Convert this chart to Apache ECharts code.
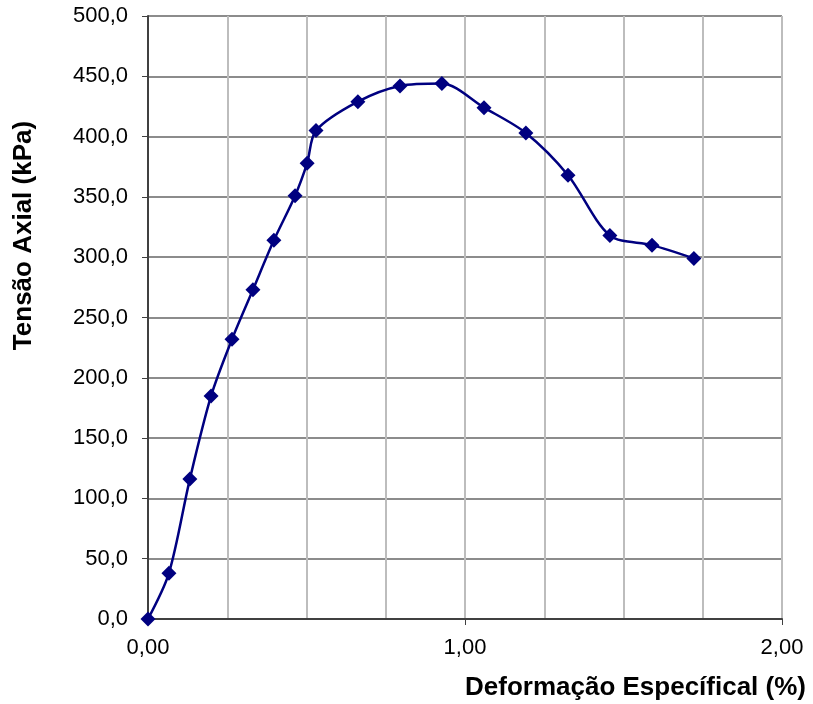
<!DOCTYPE html>
<html><head><meta charset="utf-8">
<script src="https://cdn.jsdelivr.net/npm/echarts@6/dist/echarts.min.js"></script>
<style>html,body{margin:0;padding:0;background:#fff}#c{width:813px;height:704px}</style>
</head><body><div id="c"></div>
<script>
var strain = [0, 0.066, 0.132, 0.199, 0.265, 0.331, 0.397, 0.464, 0.502, 0.530, 0.662, 0.795, 0.927, 1.060, 1.192, 1.325, 1.457, 1.590, 1.722];
var stress = [0, 38, 116, 185, 232, 273, 314, 351, 378, 405, 429, 442, 444, 424, 403, 368, 318, 310, 299];
var xTicks = [0, 1, 2];
var yTicks = [0, 50, 100, 150, 200, 250, 300, 350, 400, 450, 500];

var data = strain.map(function (x, i) { return [x, stress[i]]; });
var chart = echarts.init(document.getElementById('c'), null, {renderer: 'canvas'});
chart.setOption({
  animation: false,
  backgroundColor: '#fff',
  grid: {left: 148, right: 31, top: 16, bottom: 85, containLabel: false, show: false},
  xAxis: {
    type: 'value', min: xTicks[0], max: xTicks[xTicks.length - 1], interval: 1,
    axisLine: {show: true, onZero: false, lineStyle: {color: '#404040', width: 2}},
    axisTick: {show: true, length: 6, lineStyle: {color: '#404040', width: 1}},
    minorTick: {show: true, splitNumber: 4, length: 0},
    minorSplitLine: {show: true, lineStyle: {color: '#bdbdbd', width: 2}},
    splitLine: {show: true, lineStyle: {color: '#bdbdbd', width: 2}},
    axisLabel: {color: '#000', fontFamily: 'Liberation Sans', fontSize: 22, margin: 18,
      formatter: function (v) { return v.toFixed(2).replace('.', ','); }},
    name: 'Deformação Específical (%)', nameLocation: 'end', nameGap: 24,
    nameTextStyle: {color: '#000', fontFamily: 'Liberation Sans', fontSize: 26, fontWeight: 'bold',
      align: 'right', verticalAlign: 'top', padding: [56, 0, 0, 0]}
  },
  yAxis: {
    type: 'value', min: yTicks[0], max: yTicks[yTicks.length - 1], interval: 50,
    axisLine: {show: true, lineStyle: {color: '#404040', width: 2}},
    axisTick: {show: true, length: 6, lineStyle: {color: '#404040', width: 1}},
    splitLine: {show: true, lineStyle: {color: '#666666', width: 1.5}},
    axisLabel: {color: '#000', fontFamily: 'Liberation Sans', fontSize: 22, margin: 20,
      formatter: function (v) { return v.toFixed(1).replace('.', ','); }},
    name: 'Tensão Axial (kPa)', nameLocation: 'middle', nameGap: 111, nameRotate: 90,
    nameTextStyle: {color: '#000', fontFamily: 'Liberation Sans', fontSize: 26, fontWeight: 'bold',
      padding: [0, 0, 0, 164]}
  },
  series: [{
    type: 'line', data: data, smooth: 0.3,
    symbol: 'diamond', symbolSize: 15,
    lineStyle: {color: '#000080', width: 2.5},
    itemStyle: {color: '#000080'}
  }]
});
</script></body></html>
